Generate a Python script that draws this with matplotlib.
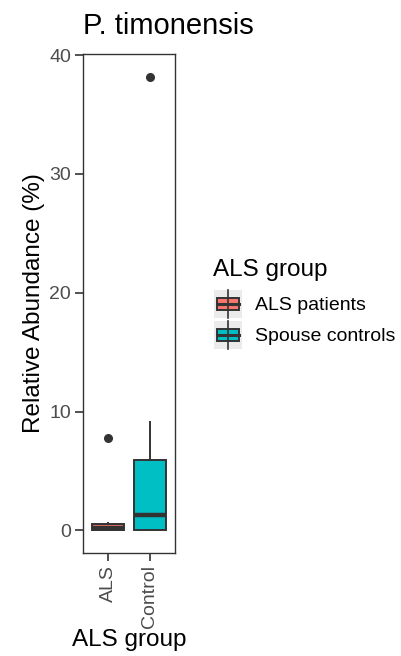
import matplotlib
matplotlib.use("Agg")
import matplotlib.pyplot as plt
from matplotlib.patches import Rectangle
from matplotlib.lines import Line2D

plt.rcParams['font.family'] = ['Liberation Sans', 'DejaVu Sans']

# ---- data ----
categories = ["ALS", "Control"]
group_labels = ["ALS patients", "Spouse controls"]
colors = ["#F8766D", "#00BFC4"]
q1 = [0.0, 0.05]
medians = [0.2, 1.3]
q3 = [0.5, 5.9]
whislo = [0.0, 0.0]
whishi = [0.6, 9.1]
outliers = [[7.8], [38.2]]
yticks = [0, 10, 20, 30, 40]

W, H = 402, 656
fig = plt.figure(figsize=(W / 100, H / 100), dpi=100)
ax = fig.add_axes([83 / W, 1 - 553 / H, (175 - 83) / W, (553 - 54) / H])

stats = []
for i in range(len(categories)):
    stats.append(dict(med=medians[i], q1=q1[i], q3=q3[i], whislo=whislo[i],
                      whishi=whishi[i], fliers=outliers[i], label=categories[i]))

edge = "#333333"
bp = ax.bxp(stats, positions=[1, 2], widths=0.75, patch_artist=True, showcaps=False,
            boxprops=dict(edgecolor=edge, linewidth=1.4),
            whiskerprops=dict(color=edge, linewidth=1.4),
            medianprops=dict(color=edge, linewidth=3.2, solid_capstyle='butt'),
            flierprops=dict(marker='o', markerfacecolor=edge, markeredgecolor=edge,
                            markersize=5.5, linestyle='none'))
for patch, c in zip(bp['boxes'], colors):
    patch.set_facecolor(c)

ax.set_xlim(0.4, 2.6)
ax.set_ylim(-1.91, 40.1)
ax.set_yticks(yticks)
ax.set_xticks([1, 2])
ax.set_xticklabels(categories, rotation=90)
for s in ax.spines.values():
    s.set_color(edge)
    s.set_linewidth(1.0)
ax.tick_params(axis='both', colors=edge, width=1.2, length=5.5, labelsize=14,
               labelcolor="#4D4D4D", pad=3)

ax.set_ylabel("Relative Abundance (%)", fontsize=17.5, labelpad=3)
ax.set_xlabel("ALS group", fontsize=17.5, labelpad=1)

fig.text(83 / W, 1 - 34 / H, "P. timonensis", fontsize=21, ha='left', va='baseline')

# ---- legend, laid out in figure pixels ----
def fx(px):
    return px / W


def fy(py):
    return 1 - py / H


fig.text(fx(213), fy(276), "ALS group", fontsize=17.5, ha='left', va='baseline')
key_w, key_h, key_x = 28, 28, 214
key_tops = [290, 321]
for top, c, lab in zip(key_tops, colors, group_labels):
    fig.add_artist(Rectangle((fx(key_x), fy(top + key_h)), key_w / W, key_h / H,
                             transform=fig.transFigure, facecolor="#EBEBEB",
                             edgecolor='none'))
    cx = key_x + key_w / 2
    fig.add_artist(Line2D([fx(cx), fx(cx)], [fy(top + key_h), fy(top)],
                          transform=fig.transFigure, color=edge, linewidth=1.2))
    bx0, bx1 = key_x + 0.1 * key_w, key_x + 0.9 * key_w
    by0, by1 = top + 0.27 * key_h, top + 0.73 * key_h
    fig.add_artist(Rectangle((fx(bx0), fy(by1)), (bx1 - bx0) / W, (by1 - by0) / H,
                             transform=fig.transFigure, facecolor=c, edgecolor=edge,
                             linewidth=1.4))
    fig.add_artist(Line2D([fx(bx0), fx(bx1)], [fy(top + key_h / 2)] * 2,
                          transform=fig.transFigure, color=edge, linewidth=2.2))
    fig.text(fx(255), fy(top + key_h / 2), lab, fontsize=14, ha='left',
             va='center_baseline')

fig.savefig("out.png", dpi=100)
